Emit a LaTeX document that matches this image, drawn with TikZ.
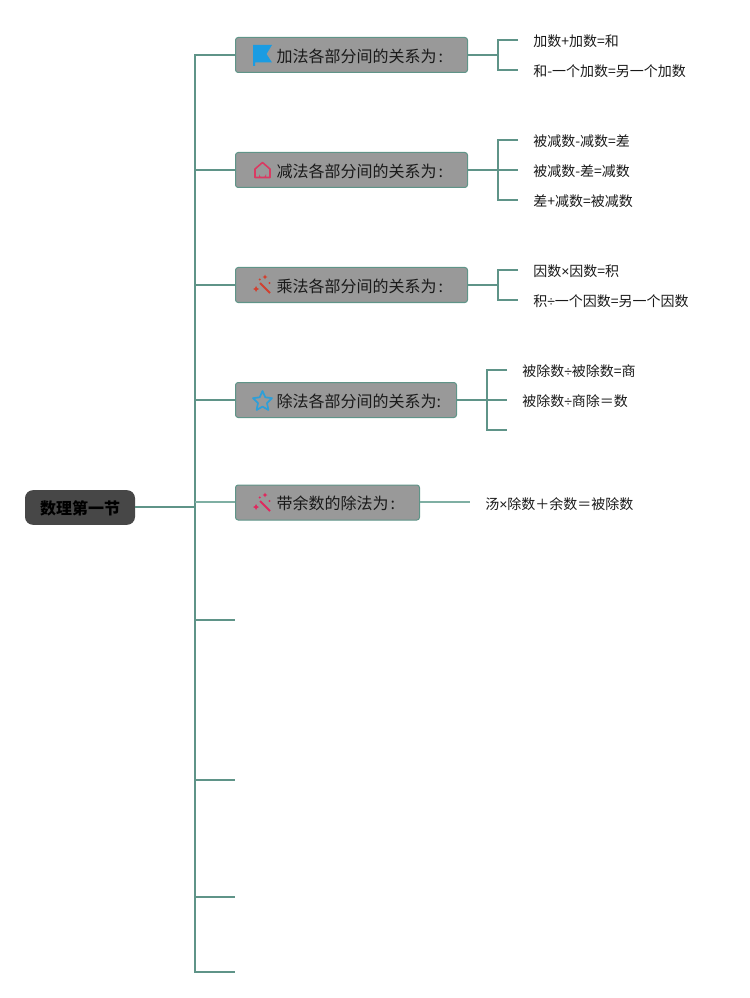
\documentclass[tikz,border=0pt]{standalone}
\usepackage{fontspec}
\setmainfont{Noto Sans CJK SC}
\newfontfamily\symfont{Liberation Sans}
\definecolor{linec}{HTML}{5F9488}
\definecolor{linel}{HTML}{7FAFA3}
\definecolor{boxf}{HTML}{999999}
\definecolor{rootf}{HTML}{474747}
\definecolor{flagc}{HTML}{1B9CE2}
\definecolor{housec}{HTML}{DA3A62}
\definecolor{wandr}{HTML}{D2402F}
\definecolor{wandp}{HTML}{E0285E}
\definecolor{starc}{HTML}{2E9FD8}
\tikzset{
  topicbox/.style={draw=linec,line width=0.75pt,fill=boxf,rounded corners=2pt,minimum height=26.25pt,inner xsep=0pt,inner ysep=0pt,anchor=west,font=\fontsize{12}{14}\selectfont,text=black!90},
  rootbox/.style={fill=rootf,rounded corners=6pt,minimum width=82.5pt,minimum height=26pt,inner sep=0pt,font=\fontsize{12}{14}\selectfont\bfseries,text=black},
  leaf/.style={anchor=west,inner sep=0pt,font=\fontsize{10.5}{13}\selectfont,text=black!90},
  trunk/.style={draw=linec,line width=1.7pt},
  conn/.style={draw=linec,line width=1.5pt},
  thin conn/.style={draw=linel,line width=1.5pt},
}
\newcommand{\lowered}[1]{\raisebox{0pt}[\dimexpr\height+1.5pt\relax][\depth]{#1}}
\newcommand{\boxlabel}[2]{\makebox[#1][l]{\hspace{30.75pt}\lowered{#2}}}
\newcommand{\mul}{{\symfont ×}}
\newcommand{\dvd}{{\symfont ÷}}
\newcommand{\wandicon}[3]{%
  \begin{scope}[shift={(#1,#2)}]
    \draw[#3,line width=1.5pt] (-2,-2) -- (8,8);
    \fill[#3] (3,-10.5) -- (3.8,-8.8) -- (5.5,-8) -- (3.8,-7.2) -- (3,-5.5) -- (2.2,-7.2) -- (0.5,-8) -- (2.2,-8.8) -- cycle;
    \fill[#3] (-6,1) -- (-5,3) -- (-3,4) -- (-5,5) -- (-6,7) -- (-7,5) -- (-9,4) -- (-7,3) -- cycle;
    \fill[#3] (-2.2,-5.5) circle (1.1);
    \fill[#3] (7.5,-2) circle (1.1);
  \end{scope}}
\begin{document}
\begin{tikzpicture}[x=0.75pt,y=-0.75pt]
\useasboundingbox (0,0) rectangle (749,998);
% root and topics
\node[rootbox] (root) at (80,507.5) {\lowered{数理第一节}};
\node[topicbox,minimum width=174pt] (t1) at (235,55) {\boxlabel{174pt}{加法各部分间的关系为\hspace{1.5pt}:}};
\node[topicbox,minimum width=174pt] (t2) at (235,170) {\boxlabel{174pt}{减法各部分间的关系为\hspace{1.5pt}:}};
\node[topicbox,minimum width=174pt] (t3) at (235,285) {\boxlabel{174pt}{乘法各部分间的关系为\hspace{1.5pt}:}};
\node[topicbox,minimum width=165.75pt] (t4) at (235,400) {\boxlabel{165.75pt}{除法各部分间的关系为:}};
\node[topicbox,minimum width=138pt] (t5) at (235,502.5) {\boxlabel{138pt}{带余数的除法为\hspace{1.5pt}:}};
% leaves
\node[leaf] (a1) at (533,41) {加数+加数=和};
\node[leaf] (a2) at (533,71) {和-一个加数=另一个加数};
\node[leaf] (b1) at (533,141) {被减数-减数=差};
\node[leaf] (b2) at (533,171) {被减数-差=减数};
\node[leaf] (b3) at (533,201) {差+减数=被减数};
\node[leaf] (c1) at (533,271) {因数\mul 因数=积};
\node[leaf] (c2) at (533,301) {积\dvd 一个因数=另一个因数};
\node[leaf] (d1) at (522,371) {被除数\dvd 被除数=商};
\node[leaf] (d2) at (522,401) {被除数\dvd 商除＝数};
\node[leaf] (e1) at (485,504) {汤\mul 除数＋余数＝被除数};
% trunk points
\coordinate (top) at (195,55);
\coordinate (bot) at (195,972);
\coordinate (rj) at (195,507);
\coordinate (j1) at (195,55);
\coordinate (j2) at (195,170);
\coordinate (j3) at (195,285);
\coordinate (j4) at (195,400);
\coordinate (j5) at (195,502);
\coordinate (j6) at (195,620);
\coordinate (j7) at (195,780);
\coordinate (j8) at (195,897);
\coordinate (e5) at (235,502);
\coordinate (e6) at (235,620);
\coordinate (e7) at (235,780);
\coordinate (e8) at (235,897);
\coordinate (e9) at (235,972);
\draw[trunk,line cap=rect] (top) -- (bot);
\draw[trunk] (root.east |- rj) -- (rj);
\draw[conn] (j1) -- (t1.west);
\draw[conn] (j2) -- (t2.west);
\draw[conn] (j3) -- (t3.west);
\draw[conn] (j4) -- (t4.west);
\draw[thin conn] (j5) -- (e5);
\draw[conn] (j6) -- (e6);
\draw[conn] (j7) -- (e7);
\draw[conn] (j8) -- (e8);
\draw[conn] (bot) -- (e9);
% brackets
\coordinate (s1) at (498,55);
\coordinate (s2) at (498,170);
\coordinate (s3) at (498,285);
\coordinate (s4) at (487,400);
\coordinate (x1) at (518,40);
\coordinate (x2) at (518,70);
\coordinate (y1) at (518,140);
\coordinate (y2) at (518,170);
\coordinate (y3) at (518,200);
\coordinate (z1) at (518,270);
\coordinate (z2) at (518,300);
\coordinate (w1) at (507,370);
\coordinate (w2) at (507,400);
\coordinate (w3) at (507,430);
\coordinate (v0) at (420,502);
\coordinate (v1) at (470,502);
\draw[conn] (t1.east) -- (s1);
\draw[conn] (x1) -| (s1) |- (x2);
\draw[conn] (t2.east) -- (y2);
\draw[conn] (y1) -| (s2) |- (y3);
\draw[conn] (t3.east) -- (s3);
\draw[conn] (z1) -| (s3) |- (z2);
\draw[conn] (t4.east) -- (w2);
\draw[conn] (w1) -| (s4) |- (w3);
\draw[thin conn] (v0) -- (v1);
% icons
\fill[flagc] (253,45) -- (272,45) -- (266.5,54) -- (272,62.5) -- (255,62.5) -- (255,66) -- (253,66) -- cycle;
\draw[housec,line width=1.2pt,line join=round] (255,177.5) -- (255,169) -- (262.5,162.5) -- (270,169) -- (270,177.5) -- cycle;
\fill[housec] (259,178) -- (259,174) arc[start angle=180,end angle=0,radius=3.5] -- (266,178) -- cycle;
\wandicon{262}{285}{wandr}
\draw[starc,line width=1.3pt,line join=round] (262.5,391) -- (265.3,397.3) -- (272,398.2) -- (267,403) -- (268.4,410) -- (262.5,406.6) -- (256.6,410) -- (258,403) -- (253,398.2) -- (259.7,397.3) -- cycle;
\wandicon{262}{503}{wandp}
\end{tikzpicture}
\end{document}
